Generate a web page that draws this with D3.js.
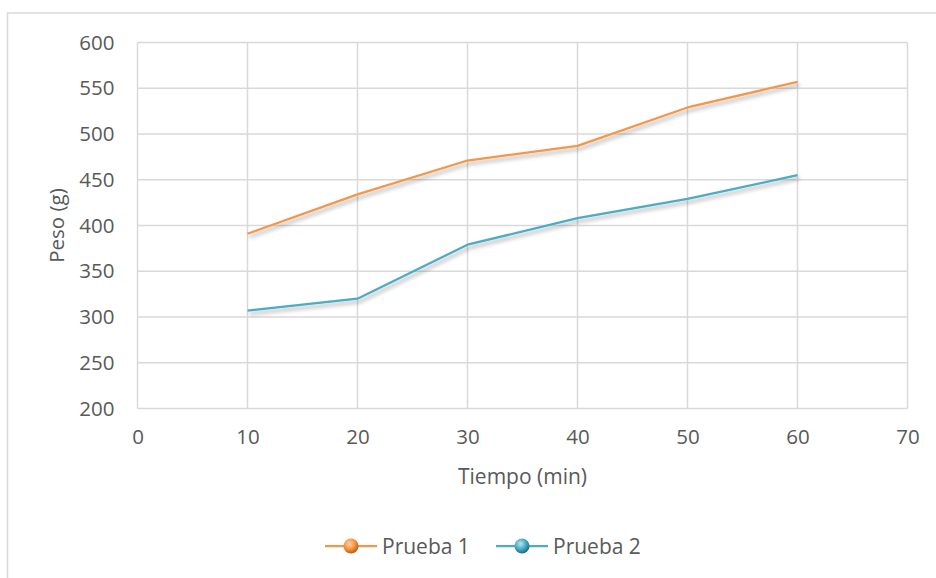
<!DOCTYPE html>
<html>
<head>
<meta charset="utf-8">
<script src="https://cdn.jsdelivr.net/npm/d3@7"></script>
<style>
  body { margin: 0; background: #fff; }
  text { font-family: "Open Sans", sans-serif; fill: #595959; }
</style>
</head>
<body>
<div id="chart"></div>
<script>
const width = 936
const height = 578

// datos
const tiempos = [10, 20, 30, 40, 50, 60]
const prueba1 = [391, 434, 471, 487, 529, 557]
const prueba2 = [307, 320, 379, 408, 429, 455]
const series = [
    { nombre: "Prueba 1", valores: prueba1, color: "#F79646", claro: "#fdd3a8", oscuro: "#b85e12" },
    { nombre: "Prueba 2", valores: prueba2, color: "#4BACC6", claro: "#b8e6f2", oscuro: "#1f6c82" }
]
const ticksX = [0, 10, 20, 30, 40, 50, 60, 70]
const ticksY = [200, 250, 300, 350, 400, 450, 500, 550, 600]

const margin = { left: 137.5, right: 936 - 907.5, top: 42.5, bottom: 578 - 408.5 }

const svg = d3.select("#chart").append("svg")
    .attr("width", width)
    .attr("height", height)

const defs = svg.append("defs")
const sombra = defs.append("filter")
    .attr("id", "sombra")
    .attr("x", "-10%").attr("y", "-20%")
    .attr("width", "120%").attr("height", "160%")
sombra.append("feGaussianBlur").attr("in", "SourceAlpha").attr("stdDeviation", 2.2).attr("result", "blur")
sombra.append("feOffset").attr("in", "blur").attr("dx", 2).attr("dy", 3).attr("result", "off")
sombra.append("feComponentTransfer").attr("in", "off").attr("result", "off2")
    .append("feFuncA").attr("type", "linear").attr("slope", 0.35)
const merge = sombra.append("feMerge")
merge.append("feMergeNode").attr("in", "off2")
merge.append("feMergeNode").attr("in", "SourceGraphic")

series.forEach((s, i) => {
    const g = defs.append("radialGradient")
        .attr("id", "esfera" + i)
        .attr("cx", "40%").attr("cy", "35%").attr("r", "65%")
    g.append("stop").attr("offset", "0%").attr("stop-color", s.claro)
    g.append("stop").attr("offset", "55%").attr("stop-color", s.color)
    g.append("stop").attr("offset", "100%").attr("stop-color", s.oscuro)
})

// borde del grafico
svg.append("rect")
    .attr("x", 7.5).attr("y", 13)
    .attr("width", 940).attr("height", 580)
    .attr("fill", "none")
    .attr("stroke", "#d9d9d9")
    .attr("stroke-width", 1.5)

const x = d3.scaleLinear().domain([0, 70]).range([margin.left, width - margin.right])
const y = d3.scaleLinear().domain([200, 600]).range([height - margin.bottom, margin.top])

const grid = svg.append("g")
grid.selectAll(".gx")
    .data(ticksX)
    .join("line")
    .attr("x1", d => x(d)).attr("x2", d => x(d))
    .attr("y1", y(200)).attr("y2", y(600))
    .attr("stroke", "#d9d9d9").attr("stroke-width", 1.5)
grid.selectAll(".gy")
    .data(ticksY)
    .join("line")
    .attr("x1", x(0)).attr("x2", x(70))
    .attr("y1", d => y(d)).attr("y2", d => y(d))
    .attr("stroke", "#d9d9d9").attr("stroke-width", 1.5)

const ejeY = svg.append("g")
    .attr("transform", `translate(${x(0)},0)`)
    .call(d3.axisLeft(y).tickValues(ticksY).tickSize(0).tickPadding(23))
ejeY.select(".domain").remove()
ejeY.selectAll("text").style("font-size", "20.5px").attr("fill", "#595959").attr("font-family", null)

const ejeX = svg.append("g")
    .attr("transform", `translate(0,${y(200)})`)
    .call(d3.axisBottom(x).tickValues(ticksX).tickSize(0).tickPadding(21))
ejeX.select(".domain").remove()
ejeX.selectAll("text").style("font-size", "20.5px").attr("fill", "#595959").attr("font-family", null)

svg.append("text")
    .attr("transform", `translate(64,${(y(200) + y(600)) / 2}) rotate(-90)`)
    .attr("text-anchor", "middle")
    .style("font-size", "20.5px")
    .text("Peso (g)")

svg.append("text")
    .attr("x", (x(0) + x(70)) / 2)
    .attr("y", 484)
    .attr("text-anchor", "middle")
    .style("font-size", "21px")
    .text("Tiempo (min)")

const linea = d3.line()
    .x((d, i) => x(tiempos[i]))
    .y(d => y(d))

svg.append("g").selectAll("path")
    .data(series)
    .join("path")
    .attr("d", d => linea(d.valores))
    .attr("fill", "none")
    .attr("stroke", d => d.color)
    .attr("stroke-width", 2.25)
    .attr("stroke-linejoin", "round")
    .attr("filter", "url(#sombra)")

// leyenda
const leyenda = svg.append("g")
const posLeyenda = [325, 496]
series.forEach((s, i) => {
    const g = leyenda.append("g").attr("transform", `translate(${posLeyenda[i]},546)`)
    g.append("line")
        .attr("x1", 0).attr("x2", 52)
        .attr("stroke", s.color).attr("stroke-width", 2.25)
    g.append("circle")
        .attr("cx", 26).attr("r", 7.5)
        .attr("fill", `url(#esfera${i})`)
    g.append("text")
        .attr("x", 57).attr("y", 7.5)
        .style("font-size", "21px")
        .text(s.nombre)
})
</script>
</body>
</html>
